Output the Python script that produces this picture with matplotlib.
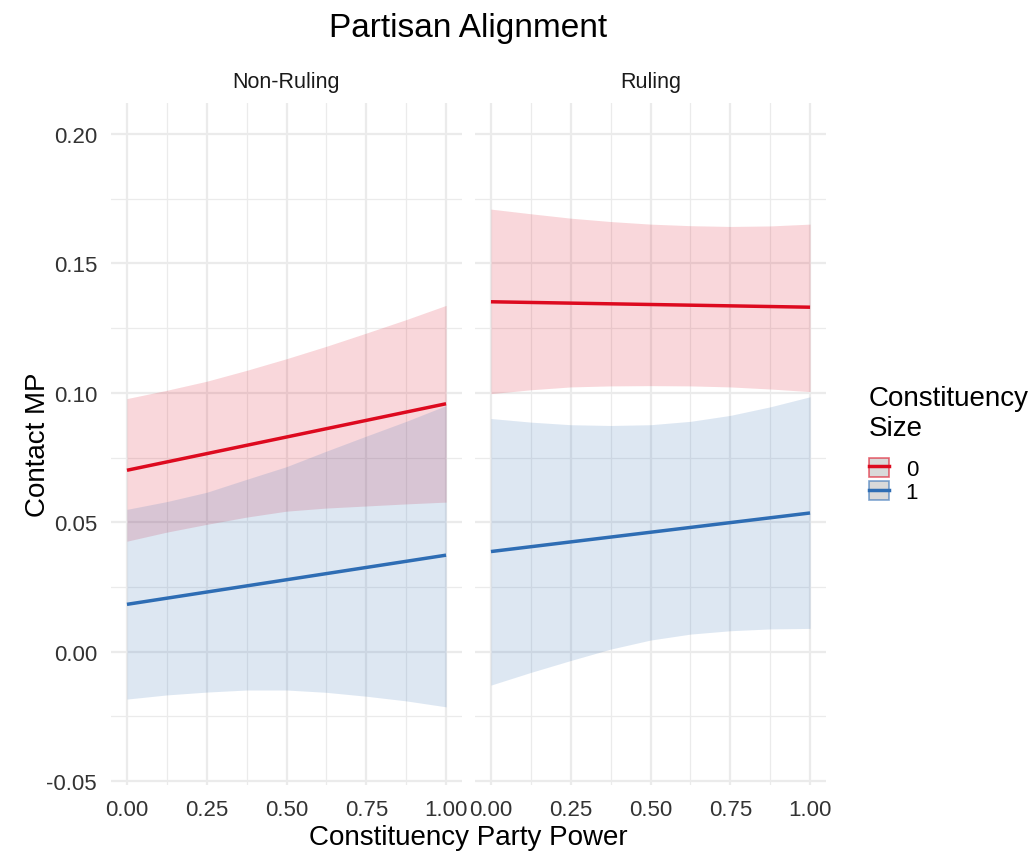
import matplotlib
matplotlib.use('Agg')
from matplotlib import pyplot as plt
from matplotlib.patches import Patch
from matplotlib.lines import Line2D
from matplotlib.ticker import FixedLocator

plt.rcParams['font.family'] = ['Liberation Sans', 'DejaVu Sans']

panels = ['Non-Ruling', 'Ruling']
size_levels = ['0', '1']
colors = ['#DD0A1F', '#2E6DB4']

# fitted lines are straight, two ends are enough
x_line = [0.0, 1.0]
# ribbon bounds
x_band = [0.0, 0.125, 0.25, 0.375, 0.5, 0.625, 0.75, 0.875, 1.0]

nonruling_0_fit = [0.0701, 0.0958]
nonruling_0_upper = [0.0978, 0.1010, 0.1045, 0.1087, 0.1132, 0.1180, 0.1231, 0.1283, 0.1338]
nonruling_0_lower = [0.0427, 0.0462, 0.0492, 0.0520, 0.0543, 0.0555, 0.0563, 0.0571, 0.0578]

nonruling_1_fit = [0.0183, 0.0373]
nonruling_1_upper = [0.0550, 0.0580, 0.0616, 0.0666, 0.0715, 0.0775, 0.0833, 0.0890, 0.0951]
nonruling_1_lower = [-0.0183, -0.0167, -0.0156, -0.0148, -0.0148, -0.0157, -0.0172, -0.0190, -0.0213]

ruling_0_fit = [0.1352, 0.1331]
ruling_0_upper = [0.1710, 0.1692, 0.1675, 0.1662, 0.1652, 0.1646, 0.1643, 0.1645, 0.1652]
ruling_0_lower = [0.0997, 0.1012, 0.1023, 0.1027, 0.1028, 0.1027, 0.1023, 0.1015, 0.1005]

ruling_1_fit = [0.0387, 0.0536]
ruling_1_upper = [0.0901, 0.0887, 0.0877, 0.0874, 0.0877, 0.0890, 0.0913, 0.0946, 0.0985]
ruling_1_lower = [-0.0129, -0.0080, -0.0034, 0.0010, 0.0045, 0.0068, 0.0081, 0.0088, 0.0090]

x_ticks = [0.0, 0.25, 0.5, 0.75, 1.0]
x_ticklabels = ['0.00', '0.25', '0.50', '0.75', '1.00']
y_ticks = [-0.05, 0.0, 0.05, 0.10, 0.15, 0.20]
y_ticklabels = ['-0.05', '0.00', '0.05', '0.10', '0.15', '0.20']

series = {
    'Non-Ruling': [
        (nonruling_0_fit, nonruling_0_lower, nonruling_0_upper),
        (nonruling_1_fit, nonruling_1_lower, nonruling_1_upper),
    ],
    'Ruling': [
        (ruling_0_fit, ruling_0_lower, ruling_0_upper),
        (ruling_1_fit, ruling_1_lower, ruling_1_upper),
    ],
}

W, H = 1035, 853
fig = plt.figure(figsize=(W / 100, H / 100), dpi=100)

grid_col = '#EBEBEB'
text_col = '#333333'
lefts = [111, 475]
panel_w = 351
top, bottom = 104, 786

for i, name in enumerate(panels):
    ax = fig.add_axes([lefts[i] / W, 1 - bottom / H, panel_w / W, (bottom - top) / H])
    for (fit, lo, hi), col in zip(series[name], colors):
        ax.fill_between(x_band, lo, hi, color=col, alpha=0.16, linewidth=0)
    for (fit, lo, hi), col in zip(series[name], colors):
        ax.plot(x_line, fit, color=col, lw=2.5, solid_capstyle='butt')

    ax.set_xlim(-0.05, 1.05)
    ax.set_ylim(-0.0515, 0.212)
    ax.set_xticks(x_ticks)
    ax.set_xticklabels(x_ticklabels)
    ax.set_yticks(y_ticks)
    ax.set_yticklabels(y_ticklabels if i == 0 else [])
    ax.xaxis.set_minor_locator(FixedLocator([0.125, 0.375, 0.625, 0.875]))
    ax.yaxis.set_minor_locator(FixedLocator([-0.025, 0.025, 0.075, 0.125, 0.175]))
    ax.grid(which='major', color=grid_col, lw=1.6)
    ax.grid(which='minor', color=grid_col, lw=0.9)
    ax.set_axisbelow(True)
    ax.tick_params(which='both', length=0, labelsize=16, labelcolor=text_col, pad=10)
    for s in ax.spines.values():
        s.set_visible(False)
    ax.text(0.5, 1 + 21 / (bottom - top), name, transform=ax.transAxes,
            ha='center', va='center', fontsize=15.5, color='#1A1A1A')

fig.text(468 / W, 1 - 28 / H, 'Partisan Alignment', ha='center', va='center', fontsize=24)
fig.text(468 / W, 1 - 838 / H, 'Constituency Party Power', ha='center', va='center', fontsize=20)
fig.text(38 / W, 1 - 445 / H, 'Contact MP', ha='center', va='center', rotation=90, fontsize=20)

handles = []
for col in colors:
    box = Patch(facecolor='#D9D9D9', edgecolor=matplotlib.colors.to_rgba(col, 0.6), linewidth=1.2)
    ln = Line2D([], [], color=col, lw=2.5)
    handles.append((box, ln))

leg = fig.legend(handles, size_levels, title='Constituency\nSize', loc='upper left',
                 bbox_to_anchor=(869 / W, 1 - 386 / H), frameon=False,
                 fontsize=16, title_fontsize=20, handlelength=0.9, handleheight=0.95,
                 handletextpad=0.75, labelspacing=0.05, borderpad=0, borderaxespad=0)
leg._legend_box.align = 'left'
leg._legend_box.sep = 12

fig.savefig('out.png', dpi=100)
